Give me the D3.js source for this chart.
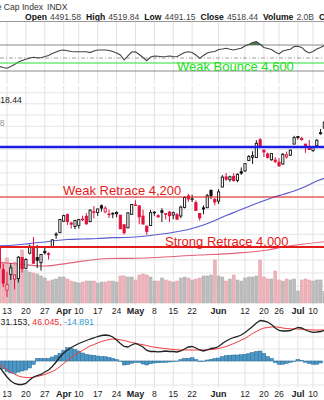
<!DOCTYPE html>
<html>
<head>
<meta charset="utf-8">
<script src="https://cdn.jsdelivr.net/npm/d3@7"></script>
<style>
  html, body { margin: 0; padding: 0; background: #fff; overflow: hidden; }
  svg { display: block; font-family: Arial, "Liberation Sans", Helvetica, sans-serif; }
</style>
</head>
<body>
<svg id="chart" width="324" height="400"></svg>
<script>
// ---- Daily data, 2023 (trading days) ----
const days = [
  "03-08","03-09","03-10","03-13","03-14","03-15","03-16","03-17","03-20","03-21","03-22","03-23","03-24",
  "03-27","03-28","03-29","03-30","03-31","04-03","04-04","04-05","04-06","04-10","04-11","04-12","04-13",
  "04-14","04-17","04-18","04-19","04-20","04-21","04-24","04-25","04-26","04-27","04-28","05-01","05-02",
  "05-03","05-04","05-05","05-08","05-09","05-10","05-11","05-12","05-15","05-16","05-17","05-18","05-19",
  "05-22","05-23","05-24","05-25","05-26","05-30","05-31","06-01","06-02","06-05","06-06","06-07","06-08",
  "06-09","06-12","06-13","06-14","06-15","06-16","06-20","06-21","06-22","06-23","06-26","06-27","06-28",
  "06-29","06-30","07-03","07-05","07-06","07-07","07-10","07-11","07-12","07-13"
];
const open = [3987.55,3998.66,3912.77,3835.12,3894.01,3876.74,3878.93,3958.69,3917.47,3975.89,4002.04,3959.21,3939.21,
  3982.93,3974.13,3999.53,4046.74,4056.18,4102.20,4128.03,4094.50,4081.15,4085.20,4110.29,4121.72,4100.04,
  4140.11,4137.17,4164.26,4139.33,4130.48,4132.14,4132.07,4126.43,4087.78,4075.29,4129.63,4166.79,4164.10,
  4122.25,4082.61,4084.73,4136.98,4124.25,4143.74,4132.24,4138.54,4126.65,4127.95,4122.85,4157.68,4204.15,
  4190.78,4176.80,4132.96,4155.71,4156.16,4226.71,4190.74,4183.03,4241.01,4282.99,4271.61,4285.47,4268.69,
  4304.88,4308.32,4352.61,4366.29,4365.33,4440.95,4396.11,4380.01,4355.40,4354.17,4344.84,4337.36,4367.48,
  4374.94,4422.44,4450.48,4442.04,4422.62,4404.54,4394.23,4415.55,4467.69,4491.58];
const high = [4000.41,4017.81,3934.05,3905.05,3937.29,3894.26,3964.46,3958.91,3956.62,4009.08,4039.49,4007.66,3972.74,
  4003.83,3979.20,4030.59,4057.85,4110.75,4127.66,4133.13,4099.69,4107.32,4109.50,4124.26,4134.37,4150.26,
  4163.19,4151.72,4169.48,4162.57,4148.57,4138.02,4142.41,4126.43,4089.67,4138.24,4170.06,4186.92,4164.10,
  4148.30,4082.61,4147.02,4142.30,4130.35,4154.28,4132.80,4143.74,4141.25,4135.54,4164.67,4202.20,4212.91,
  4209.22,4185.68,4132.96,4165.74,4212.87,4231.10,4195.44,4232.43,4290.67,4299.28,4288.33,4299.19,4298.01,
  4322.62,4340.13,4375.37,4391.82,4439.20,4448.47,4400.15,4386.22,4382.25,4366.55,4362.06,4384.42,4390.35,
  4398.39,4458.48,4456.46,4454.06,4422.62,4440.39,4412.60,4443.64,4488.34,4519.84];
const low = [3969.76,3908.70,3846.32,3808.86,3873.63,3838.24,3864.11,3901.27,3916.89,3971.19,3936.17,3919.05,3909.16,
  3970.49,3951.53,3999.53,4032.10,4056.18,4098.79,4086.87,4072.56,4069.84,4072.55,4102.61,4086.94,4099.40,
  4113.20,4123.18,4140.36,4134.49,4114.57,4113.86,4117.77,4071.38,4049.35,4075.29,4127.18,4164.12,4089.72,
  4088.86,4048.28,4084.73,4123.81,4116.65,4098.92,4109.29,4099.12,4110.27,4109.86,4113.62,4153.50,4180.20,
  4179.68,4142.54,4103.98,4129.73,4156.16,4192.18,4166.15,4171.64,4241.01,4266.82,4263.09,4263.96,4261.07,
  4291.70,4304.37,4349.85,4337.85,4362.60,4407.44,4367.19,4360.14,4351.82,4341.34,4328.08,4335.00,4360.22,
  4371.97,4422.44,4442.29,4436.61,4385.05,4397.40,4389.92,4408.46,4463.23,4491.15];
const close = [3992.01,3918.32,3861.59,3855.76,3919.29,3891.93,3960.28,3916.64,3951.57,4002.87,3936.97,3948.72,3970.99,
  3977.53,3971.27,4027.81,4050.83,4109.31,4124.51,4100.60,4090.38,4105.02,4109.11,4108.94,4091.95,4146.22,
  4137.64,4151.32,4154.87,4154.52,4129.79,4133.52,4137.04,4071.63,4055.99,4135.35,4169.48,4167.87,4119.58,
  4090.75,4061.22,4136.25,4138.12,4119.17,4137.64,4130.62,4124.08,4136.28,4109.90,4158.77,4198.05,4191.98,
  4192.63,4145.58,4115.24,4151.28,4205.45,4205.52,4179.83,4221.02,4282.37,4273.79,4283.85,4267.52,4293.93,
  4298.86,4338.93,4369.01,4372.59,4425.84,4409.59,4388.71,4365.69,4381.89,4348.33,4328.82,4378.41,4376.86,
  4396.44,4450.38,4455.59,4446.82,4411.59,4398.95,4409.53,4439.26,4472.16,4518.44];
// volume, billions of shares
const volume = [4.31,7.07,7.07,7.76,6.55,7.07,6.55,9.14,5.69,5.34,5.17,5.0,4.66,
  4.31,3.79,3.97,4.14,4.48,4.48,4.14,3.79,3.62,3.45,3.62,3.79,3.79,
  3.79,3.45,3.62,3.62,3.79,3.79,3.62,4.66,4.66,4.48,4.48,3.97,4.83,
  5.0,4.83,4.48,3.79,3.79,4.31,3.97,3.79,3.62,3.79,4.31,4.48,4.31,
  3.97,4.14,4.31,4.66,4.66,4.83,7.41,4.66,4.48,3.79,4.14,4.83,3.97,
  3.79,4.31,4.48,4.48,4.66,7.41,4.48,4.14,4.14,5.52,3.97,3.79,4.14,
  3.97,4.14,2.07,3.97,4.14,3.97,3.79,3.97,3.97,2.0];
// RSI(14)
const rsi = [40.5,36.9,35.4,34.2,36.9,40.0,43.8,46.2,48.2,50.0,51.2,50.3,50.3,
  52.3,53.8,56.9,59.2,61.5,62.3,61.1,60.0,59.7,59.7,59.7,59.7,58.3,
  60.8,62.3,62.3,62.3,61.5,60.0,57.7,54.6,46.9,53.1,59.2,59.7,55.4,
  50.8,45.8,51.5,53.1,52.8,52.0,52.3,53.1,52.3,52.0,55.4,58.5,59.5,
  58.5,54.6,49.5,53.8,57.7,59.2,60.0,63.1,63.8,64.9,63.5,62.3,63.8,
  64.9,68.5,70.8,73.8,75.1,71.1,66.2,64.6,63.1,59.2,56.2,60.8,62.3,
  63.4,67.7,68.0,66.2,60.8,57.7,60.0,63.8,66.2,69.2];
// MACD(12,26,9)
const macd = [-4,-12,-22,-32,-40,-45,-47,-47,-45,-38,-32,-29,-27,
  -22,-18,-11,-2,8,16,22,27,31,35,38,41,44,
  46,49,51,52,51,48,42,35,29,28,32,35,32,
  28,21,19,19,18.4,19,20,19,19,18,20,24,28,
  29,26,22,20,22,25,26,29,35,40,44,47,49,
  52,57,63,69,76,81,80,78,73,66,61,60,60,
  61,64,67,66,62,59,57.4,58,59,61];
const signal = [-2,-6,-12,-17,-22,-26,-30,-32,-33,-33.4,-33,-31,-29,
  -27,-24,-21,-17,-11,-5,1,7,12,17,21,26,30,
  33,36,39,41,43,44,43.6,42.4,41,39,37,35.4,34,
  32.4,31,29,27.6,26.6,25.6,25,24,23,22.4,22,22,22,
  22,22,22,22,22.4,23,23.6,25,27,29,32,35,38,
  42,45,50,55,59,63,66,67,68,68.4,67.4,66,65,
  64.4,64,64,63.4,63,62.4,62,62,62,62];
const hist = [-8,-12,-16,-21,-24,-24.6,-22,-20,-18,-14,-7,5,5,
  5,5.4,8,11,15.4,21,26.6,25.4,23,20,16,13.4,12,
  11.4,10,9,8.6,7,5.4,3,-1,-8,-7,-4.6,-2.6,-3,
  -6,-8,-5.6,-4,-3.4,-3,-2.6,-2,-1.4,-0.6,3,5,5.4,
  6.6,3,-1.4,-1,2,3.4,5,6,9,10.6,11.6,12,12,
  12.6,13.4,15,17,19,20,15,9,5,-3,-6.6,-6.6,-5,
  -2.6,-1,3,1,-2.6,-5,-6.6,-6.6,-4,0];
const macdLegend = ["31.153", "46.045", "-14.891"];

// moving averages
const ma50Days = ["03-09","03-20","03-22","03-27","03-30","04-04","04-11","04-17","04-21","04-26","05-01","05-04",
  "05-09","05-12","05-17","05-22","05-25","05-31","06-05","06-08","06-13","06-16","06-22","06-27","06-30",
  "07-06","07-11","07-13"];
const ma50 = [4003.9,4011.7,4015.6,4019.6,4025.5,4029.4,4031.3,4033.3,4036.5,4037.3,4039.2,4043.2,
  4049.1,4055.0,4062.9,4072.9,4086.8,4104.8,4124.9,4143.0,4161.3,4179.6,4196.0,4210.3,4224.7,
  4243.3,4266.1,4277.4];
const ma200Days = ["03-09","03-16","03-27","04-04","04-20","04-28","05-24","06-07","06-21","06-27","07-13"];
const ma200 = [3940.0,3934.2,3926.5,3936.9,3955.4,3956.1,3968.9,3975.5,3988.3,4000.0,4020.7];

// date axis
const tickDays = ["03-13","03-20","03-27","04-03","04-10","04-17","04-24","05-01","05-08","05-15","05-22",
  "06-01","06-12","06-20","06-26","07-03","07-10"];
const tickLabels = ["13","20","27","Apr","10","17","24","May","8","15","22","Jun","12","20","26","Jul","10"];
const monthLabels = ["Apr","May","Jun","Jul"];

// drawn support / resistance levels
const levelPrices = [4410, 4200, 4000];
const levelLabels = ["", "Weak Retrace 4,200", "Strong Retrace 4,000"];
const bounceLabel = "Weak Bounce 4,600";
const bounceRsi = 42.3;

// header
const titleText = "S&P 500 Large Cap Index";
const symbolText = "INDX";
const quoteLabels = ["Open", "High", "Low", "Close", "Volume", "Chg"];
const quoteValues = ["4491.58", "4519.84", "4491.15", "4518.44", "2.0B", ""];
const priceLegend = ["$SPX (Daily) 4518.44", "MA(50) 4277.38"];

// ---- layout ----
const W = 324;
const rsiTop = 21, rsiBottom = 84;
const priceTop = 86, priceBottom = 305;
const macdTop = 316, macdBottom = 388;

const RED = "#e0103c", BLACK = "#111";

const svg = d3.select("#chart");

const x = d3.scalePoint().domain(days).range([-4.33, 324.35]);
const yPrice = d3.scaleLog().domain([4000, 4200]).range([247, 197]);
const yVol = d3.scaleLinear().domain([0, 10]).range([303, 245]);
const yRsi = d3.scaleLinear().domain([30, 70]).range([71, 45]);
const yMacd = d3.scaleLinear().domain([0, 48]).range([361, 337]);

// clip each panel
const defs = svg.append("defs");
function clip(id, y0, y1) {
  defs.append("clipPath").attr("id", id).append("rect")
    .attr("x", 0).attr("y", y0).attr("width", W).attr("height", y1 - y0);
  return `url(#${id})`;
}

// ---- grids ----
function vGrid(g, y0, y1) {
  g.selectAll("line").data(tickDays).join("line")
    .attr("x1", d => x(d)).attr("x2", d => x(d))
    .attr("y1", y0).attr("y2", y1)
    .attr("stroke", "#e2e2e2").attr("stroke-width", 1);
}
function hGrid(g, ys) {
  g.selectAll("line").data(ys).join("line")
    .attr("x1", 0).attr("x2", W).attr("y1", d => d).attr("y2", d => d)
    .attr("stroke", "#e6e6e6").attr("stroke-width", 1);
}

// ---- header ----
svg.append("text").attr("x", 43).attr("y", 9.5).attr("text-anchor", "end")
  .attr("font-size", 8.6).attr("fill", "#333").text(titleText);
svg.append("text").attr("x", 47).attr("y", 9.5)
  .attr("font-size", 8.6).attr("fill", "#333").text(symbolText);

{
  let cx = 25;
  quoteLabels.forEach((lab, i) => {
    const t = svg.append("text").attr("x", cx).attr("y", 19.5).attr("font-size", 8.6)
      .attr("font-weight", "bold").attr("fill", "#111").text(lab);
    cx += t.node().getComputedTextLength() + 3;
    if (quoteValues[i]) {
      const v = svg.append("text").attr("x", cx).attr("y", 19.5).attr("font-size", 8.6)
        .attr("fill", "#444").text(quoteValues[i]);
      cx += v.node().getComputedTextLength() + 5;
    }
  });
}

// ---- RSI panel ----
const rsiG = svg.append("g").attr("clip-path", clip("cRsi", rsiTop, rsiBottom));
vGrid(rsiG.append("g"), rsiTop, rsiBottom);
rsiG.append("line").attr("x1", 0).attr("x2", W).attr("y1", yRsi(70)).attr("y2", yRsi(70))
  .attr("stroke", "#888").attr("stroke-width", 1);
rsiG.append("line").attr("x1", 0).attr("x2", W).attr("y1", yRsi(30)).attr("y2", yRsi(30))
  .attr("stroke", "#888").attr("stroke-width", 1);
rsiG.append("line").attr("x1", 0).attr("x2", W).attr("y1", yRsi(50)).attr("y2", yRsi(50))
  .attr("stroke", "#888").attr("stroke-width", 0.8).attr("stroke-dasharray", "4,2,1,2");
// overbought fill
rsiG.append("path").datum(rsi)
  .attr("d", d3.area().x((d, i) => x(days[i])).y0(yRsi(70)).y1(d => yRsi(Math.max(70, d))))
  .attr("fill", "#4f7a52");
rsiG.append("path").datum(rsi)
  .attr("d", d3.line().x((d, i) => x(days[i])).y(d => yRsi(d)))
  .attr("fill", "none").attr("stroke", "#444").attr("stroke-width", 1.1);
// bounce level annotation
rsiG.append("line").attr("x1", 0).attr("x2", W).attr("y1", yRsi(bounceRsi)).attr("y2", yRsi(bounceRsi))
  .attr("stroke", "#2ee02e").attr("stroke-width", 1.2);
svg.append("text").attr("x", 177).attr("y", 70.5).attr("font-size", 13)
  .attr("fill", "#22dd22").text(bounceLabel);
svg.append("line").attr("x1", 0).attr("x2", W).attr("y1", rsiTop + 0.5).attr("y2", rsiTop + 0.5)
  .attr("stroke", "#999");

// ---- price panel ----
const pG = svg.append("g").attr("clip-path", clip("cPrice", priceTop, priceBottom));
vGrid(pG.append("g"), priceTop, priceBottom);
hGrid(pG.append("g"), d3.range(3800, 4751, 50).map(p => yPrice(p)));

// volume overlay
const down = i => i > 0 && close[i] < close[i - 1];
pG.append("g").selectAll("rect").data(volume).join("rect")
  .attr("x", (d, i) => x(days[i]) - 1.4).attr("width", 2.9)
  .attr("y", d => yVol(d)).attr("height", d => yVol(0) - yVol(d))
  .attr("fill", (d, i) => down(i) ? "#eeb3ba" : "#bcbcbc")
  .attr("stroke", (d, i) => down(i) ? "#e39aa4" : "#a8a8a8")
  .attr("stroke-width", 0.5);

// moving averages
pG.append("path").datum(ma200)
  .attr("d", d3.line().curve(d3.curveMonotoneX).x((d, i) => x(ma200Days[i])).y(d => yPrice(d)))
  .attr("fill", "none").attr("stroke", "#e2627a").attr("stroke-width", 1.2);
pG.append("path").datum(ma50)
  .attr("d", d3.line().curve(d3.curveMonotoneX).x((d, i) => x(ma50Days[i])).y(d => yPrice(d)))
  .attr("fill", "none").attr("stroke", "#5a5ad0").attr("stroke-width", 1.2);

// candles: red when the close is below the prior close, hollow when close >= open
const col = i => down(i) ? RED : BLACK;
const candles = pG.append("g").selectAll("g").data(days).join("g");
candles.append("line")
  .attr("x1", d => x(d)).attr("x2", d => x(d))
  .attr("y1", (d, i) => yPrice(high[i])).attr("y2", (d, i) => yPrice(low[i]))
  .attr("stroke", (d, i) => col(i)).attr("stroke-width", 1);
candles.append("rect")
  .attr("x", d => x(d) - 1.1).attr("width", 2.2)
  .attr("y", (d, i) => yPrice(Math.max(open[i], close[i])))
  .attr("height", (d, i) => Math.max(0.6, Math.abs(yPrice(open[i]) - yPrice(close[i]))))
  .attr("fill", (d, i) => close[i] >= open[i] ? "#fff" : col(i))
  .attr("stroke", (d, i) => col(i)).attr("stroke-width", 0.9);

// levels
levelPrices.forEach((p, k) => {
  const thick = k === 2, blue = k === 0;
  pG.append("line").attr("x1", 0).attr("x2", W).attr("y1", yPrice(p)).attr("y2", yPrice(p))
    .attr("stroke", blue ? "#1c1ce6" : "#e41b1b")
    .attr("stroke-width", blue ? 2.4 : (thick ? 2.2 : 1));
});
svg.append("text").attr("x", 63).attr("y", 195).attr("font-size", 13).attr("fill", "#e41b1b")
  .text(levelLabels[1]);
svg.append("text").attr("x", 165).attr("y", 245.5).attr("font-size", 13).attr("fill", "#e41b1b")
  .text(levelLabels[2]);

// legend
svg.append("text").attr("x", 21.8).attr("y", 103).attr("text-anchor", "end").attr("font-size", 8.6)
  .attr("fill", "#222").text(priceLegend[0]);
svg.append("text").attr("x", 4.5).attr("y", 126).attr("text-anchor", "end").attr("font-size", 8.6)
  .attr("fill", "#999").text(priceLegend[1]);

// date axes
function dateAxis(yBase) {
  const g = svg.append("g");
  g.selectAll("text").data(tickDays).join("text")
    .attr("x", d => x(d)).attr("y", yBase).attr("text-anchor", "middle")
    .attr("font-size", (d, i) => monthLabels.includes(tickLabels[i]) ? 9 : 8.6)
    .attr("font-weight", (d, i) => monthLabels.includes(tickLabels[i]) ? "bold" : "normal")
    .attr("fill", "#222")
    .text((d, i) => tickLabels[i]);
}
dateAxis(313.5);

// ---- MACD panel ----
const mG = svg.append("g").attr("clip-path", clip("cMacd", macdTop, macdBottom));
vGrid(mG.append("g"), macdTop, macdBottom);
hGrid(mG.append("g"), [-48, -24, 0, 24, 48, 72].map(v => yMacd(v)));
mG.append("g").selectAll("rect").data(hist).join("rect")
  .attr("x", (d, i) => x(days[i]) - 1.9).attr("width", 3.78)
  .attr("y", d => Math.min(yMacd(d), yMacd(0)))
  .attr("height", d => Math.abs(yMacd(d) - yMacd(0)))
  .attr("fill", "#4b97c5").attr("stroke", "#2c6d99").attr("stroke-width", 0.5);
mG.append("path").datum(signal)
  .attr("d", d3.line().x((d, i) => x(days[i])).y(d => yMacd(d)))
  .attr("fill", "none").attr("stroke", "#f23a3a").attr("stroke-width", 1);
mG.append("path").datum(macd)
  .attr("d", d3.line().x((d, i) => x(days[i])).y(d => yMacd(d)))
  .attr("fill", "none").attr("stroke", "#222").attr("stroke-width", 1.3);

const ml = svg.append("text").attr("x", 0.5).attr("y", 324.5).attr("font-size", 8.8);
ml.append("tspan").attr("fill", "#222").text(macdLegend[0] + ", ");
ml.append("tspan").attr("fill", "#f03030").text(macdLegend[1] + ", ");
ml.append("tspan").attr("fill", "#3a9ad0").text(macdLegend[2]);

dateAxis(396.5);
</script>
</body>
</html>
